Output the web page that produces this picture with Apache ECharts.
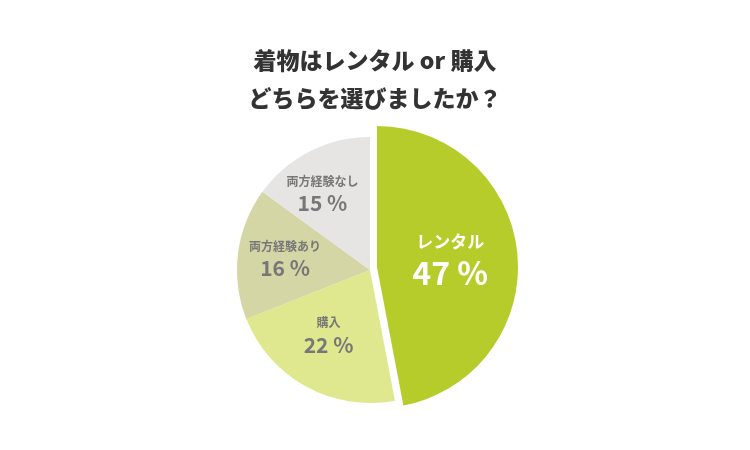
<!DOCTYPE html><html><head><meta charset="utf-8"><script src="https://cdn.jsdelivr.net/npm/echarts@6/dist/echarts.min.js"></script></head><body style="margin:0;background:#fff"><div id="c" style="width:750px;height:450px"></div><script>
const categories=['レンタル','購入','両方経験あり','両方経験なし'];
const values=[47,22,16,15];
const colors=['#b5cc2a','#dfe88e','#d5d6a6','#e6e5e3'];
const labelShift=[[0,0],[-8,5],[-16,-2],[-16,-14]];
const chart=echarts.init(document.getElementById('c'));
function mk(showIdx){
 return categories.map((n,i)=>{
  const show=showIdx.includes(i);
  return {name:n,value:values[i],
   itemStyle:{color:show?colors[i]:'rgba(0,0,0,0)'},
   label:{show:show,offset:labelShift[i]}};
 });
}
chart.setOption({
 title:{text:'着物はレンタル or 購入\nどちらを選びましたか？',left:'center',top:36,
  textStyle:{fontFamily:'Noto Sans CJK JP',fontWeight:900,fontSize:23,color:'#333',lineHeight:38}},
 series:[
 {type:'pie',center:[377,267],radius:[0,141],startAngle:90,clockwise:true,silent:true,
  data:mk([0]),labelLine:{show:false},
  label:{position:'inside',formatter:p=>'{a|'+p.name+'}\n{b|'+p.value+' %}',
   rich:{a:{fontFamily:'Noto Sans CJK JP',fontWeight:'bold',fontSize:17,color:'#fff',lineHeight:26},
         b:{fontFamily:'Noto Sans CJK JP',fontWeight:'bold',fontSize:32,color:'#fff',lineHeight:38}}}},
 {type:'pie',center:[370,270],radius:[0,133],startAngle:90,clockwise:true,silent:true,
  data:mk([1,2,3]),labelLine:{show:false},
  label:{position:'inside',formatter:p=>'{a|'+p.name+'}\n{b|'+p.value+' %}',
   rich:{a:{fontFamily:'Noto Sans CJK JP',fontWeight:'bold',fontSize:12,color:'#777',lineHeight:18},
         b:{fontFamily:'Noto Sans CJK JP',fontWeight:'bold',fontSize:21,color:'#777',lineHeight:26}}}}
 ]
});
</script></body></html>
